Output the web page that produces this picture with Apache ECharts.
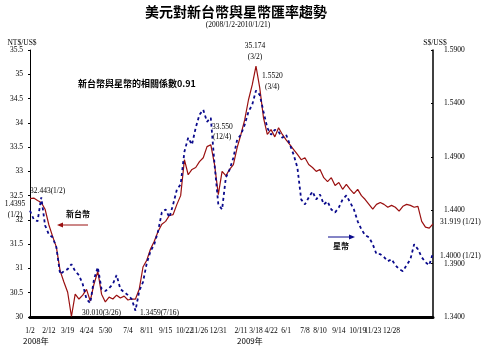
<!DOCTYPE html>
<html>
<head>
<meta charset="utf-8">
<script src="https://cdn.jsdelivr.net/npm/echarts@6/dist/echarts.min.js"></script>
<style>
  html, body { margin: 0; padding: 0; background: #fff; }
  #chart { width: 487px; height: 352px; }
</style>
</head>
<body>
<div id="chart"></div>
<script>
// NT$ per US$ (left axis), weekly readings 2008/1/2 - 2010/1/21
const ntd = [
  32.44, 32.45, 32.40, 32.36, 32.22, 31.90, 31.66, 31.44, 30.95, 30.72,
  30.51, 30.01, 30.47, 30.37, 30.45, 30.57, 30.33, 30.68, 30.94, 30.47,
  30.31, 30.41, 30.37, 30.45, 30.39, 30.43, 30.35, 30.37, 30.37, 30.57,
  31.03, 31.17, 31.40, 31.56, 31.76, 31.91, 31.97, 32.09, 32.11, 32.32,
  32.50, 33.24, 32.93, 33.04, 33.08, 33.20, 33.28, 33.51, 33.55, 33.14,
  32.52, 33.00, 32.91, 33.04, 33.14, 33.49, 33.76, 34.06, 34.47, 34.78,
  35.17, 34.72, 34.10, 33.76, 33.86, 33.71, 33.90, 33.76, 33.65, 33.55,
  33.45, 33.35, 33.24, 33.28, 33.14, 33.08, 33.00, 33.04, 32.87, 32.79,
  32.87, 32.71, 32.77, 32.63, 32.73, 32.63, 32.54, 32.63, 32.50, 32.42,
  32.32, 32.22, 32.32, 32.36, 32.32, 32.26, 32.30, 32.26, 32.18, 32.28,
  32.32, 32.30, 32.26, 32.28, 31.97, 31.85, 31.83, 31.92
];

// S$ per US$ (right axis)
const sgd = [
  1.4395, 1.4314, 1.4296, 1.4520, 1.4258, 1.4174, 1.4146, 1.4053, 1.3801, 1.3829,
  1.3848, 1.3894, 1.3829, 1.3792, 1.3708, 1.3568, 1.3531, 1.3754, 1.3866, 1.3661,
  1.3643, 1.3671, 1.3708, 1.3792, 1.3661, 1.3633, 1.3605, 1.3568, 1.3459, 1.3643,
  1.3726, 1.3904, 1.4016, 1.4081, 1.4202, 1.4379, 1.4407, 1.4333, 1.4454, 1.4594,
  1.4641, 1.4948, 1.5079, 1.5014, 1.5172, 1.5294, 1.5340, 1.5228, 1.5266, 1.4827,
  1.4454, 1.4407, 1.4706, 1.4781, 1.4892, 1.5060, 1.5107, 1.5200, 1.5322, 1.5387,
  1.5520, 1.5480, 1.5322, 1.5172, 1.5107, 1.5154, 1.5135, 1.5079, 1.5107, 1.5014,
  1.4920, 1.4799, 1.4501, 1.4454, 1.4519, 1.4575, 1.4501, 1.4547, 1.4454, 1.4482,
  1.4407, 1.4379, 1.4426, 1.4501, 1.4538, 1.4473, 1.4407, 1.4296, 1.4221, 1.4165,
  1.4146, 1.4081, 1.3988, 1.3988, 1.3960, 1.3922, 1.3941, 1.3885, 1.3848, 1.3829,
  1.3885, 1.3941, 1.4081, 1.4034, 1.3960, 1.3913, 1.3885, 1.4000
];

// x axis tick labels and the sample where each one is printed
const tickLabels = ['1/2', '2/12', '3/19', '4/24', '5/30', '7/4', '8/11', '9/15', '10/22', '11/26', '12/31',
  '2/11', '3/18', '4/22', '6/1', '7/8', '8/10', '9/14', '10/19', '11/23', '12/28'];
const tickAt = [0, 5, 10, 15, 20, 26, 31, 36, 41, 45, 50, 56, 60, 64, 68, 73, 77, 82, 87, 91, 96];

// weekly sample dates, the last one is the final quote day
const dates = [];
const d0 = new Date(2008, 0, 2);
for (let i = 0; i < ntd.length - 1; i++) {
  const d = new Date(d0.getTime() + i * 7 * 86400000);
  dates.push(d.getFullYear() + '/' + (d.getMonth() + 1) + '/' + d.getDate());
}
dates.push('2010/1/21');

const RED = '#9a1010';
const BLUE = '#0a0a8c';
const SERIF = '"Liberation Serif", "Times New Roman", serif';
const CJK = '"Noto Sans CJK TC", sans-serif';
const FS = 7.5;

const txt = (x, y, text, opts = {}) => ({
  type: 'text',
  x, y,
  style: Object.assign({
    text,
    fontSize: FS,
    fontFamily: SERIF,
    fill: '#000',
    align: 'left',
    verticalAlign: 'middle'
  }, opts)
});

const chart = echarts.init(document.getElementById('chart'));
chart.setOption({
  animation: false,
  backgroundColor: '#fff',
  grid: { left: 30, right: 54, top: 50, bottom: 35, containLabel: false, outerBoundsMode: 'none' },
  xAxis: {
    type: 'category',
    data: dates,
    boundaryGap: false,
    axisLine: { lineStyle: { color: '#000', width: 3 } },
    axisTick: { show: false },
    axisLabel: {
      interval: (i) => tickAt.indexOf(i) >= 0,
      formatter: (v, i) => tickLabels[tickAt.indexOf(i)] || '',
      fontSize: FS,
      fontFamily: SERIF,
      color: '#000',
      margin: 10
    },
    splitLine: { show: false }
  },
  yAxis: [
    {
      type: 'value',
      position: 'left',
      min: 30,
      max: 35.5,
      interval: 0.5,
      axisLine: { show: true, lineStyle: { color: '#000', width: 1 } },
      axisTick: { show: true, length: 2, lineStyle: { color: '#000' } },
      axisLabel: { fontSize: FS, fontFamily: SERIF, color: '#000', margin: 7 },
      splitLine: { show: false }
    },
    {
      type: 'value',
      position: 'right',
      min: 1.34,
      max: 1.59,
      interval: 0.05,
      axisLine: { show: true, lineStyle: { color: '#000', width: 1.5 } },
      axisTick: { show: true, inside: true, length: 2, lineStyle: { color: '#000' } },
      axisLabel: {
        fontSize: FS, fontFamily: SERIF, color: '#000', margin: 11,
        formatter: (v) => v.toFixed(4)
      },
      splitLine: { show: false }
    }
  ],
  series: [
    {
      name: '新台幣',
      type: 'line',
      yAxisIndex: 0,
      data: ntd,
      showSymbol: false,
      lineStyle: { color: RED, width: 1.2 },
      itemStyle: { color: RED }
    },
    {
      name: '星幣',
      type: 'line',
      yAxisIndex: 1,
      data: sgd,
      showSymbol: false,
      lineStyle: { color: BLUE, width: 1.8, type: [3, 3] },
      itemStyle: { color: BLUE }
    }
  ],
  graphic: [
    txt(236, 12, '美元對新台幣與星幣匯率趨勢', { fontSize: 14, fontFamily: CJK, fontWeight: 'bold', align: 'center' }),
    txt(238, 25, '(2008/1/2-2010/1/21)', { align: 'center' }),
    txt(22, 43, 'NT$/US$', { align: 'center' }),
    txt(435, 43, 'S$/US$', { align: 'center' }),
    txt(78, 84, '新台幣與星幣的相關係數0.91', { fontSize: 9, fontFamily: CJK, fontWeight: 'bold' }),
    txt(30, 191, '32.443(1/2)'),
    txt(15, 204, '1.4395', { align: 'center' }),
    txt(15, 215, '(1/2)', { align: 'center' }),
    txt(66, 214, '新台幣', { fontSize: 8, fontFamily: CJK, fontWeight: 'bold' }),
    { type: 'line', shape: { x1: 60, y1: 225, x2: 88, y2: 225 }, style: { stroke: RED, lineWidth: 1 } },
    { type: 'polygon', shape: { points: [[57, 225], [63, 222.5], [63, 227.5]] }, style: { fill: RED } },
    txt(212, 127, '33.550'),
    txt(213, 137, '(12/4)'),
    txt(255, 46, '35.174', { align: 'center' }),
    txt(255, 57, '(3/2)', { align: 'center' }),
    txt(262, 76, '1.5520'),
    txt(265, 87, '(3/4)'),
    txt(82, 313, '30.010(3/26)'),
    txt(140, 313, '1.3459(7/16)'),
    txt(440, 222, '31.919 (1/21)'),
    txt(440, 256, '1.4000 (1/21)'),
    txt(333, 246, '星幣', { fontSize: 8, fontFamily: CJK, fontWeight: 'bold' }),
    { type: 'line', shape: { x1: 328, y1: 237, x2: 350, y2: 237 }, style: { stroke: BLUE, lineWidth: 1 } },
    { type: 'polygon', shape: { points: [[355, 237], [349, 234.5], [349, 239.5]] }, style: { fill: BLUE } },
    txt(23, 341, '2008年', { fontFamily: CJK, fontSize: 8 }),
    txt(237, 341, '2009年', { fontFamily: CJK, fontSize: 8 })
  ]
});
</script>
</body>
</html>
